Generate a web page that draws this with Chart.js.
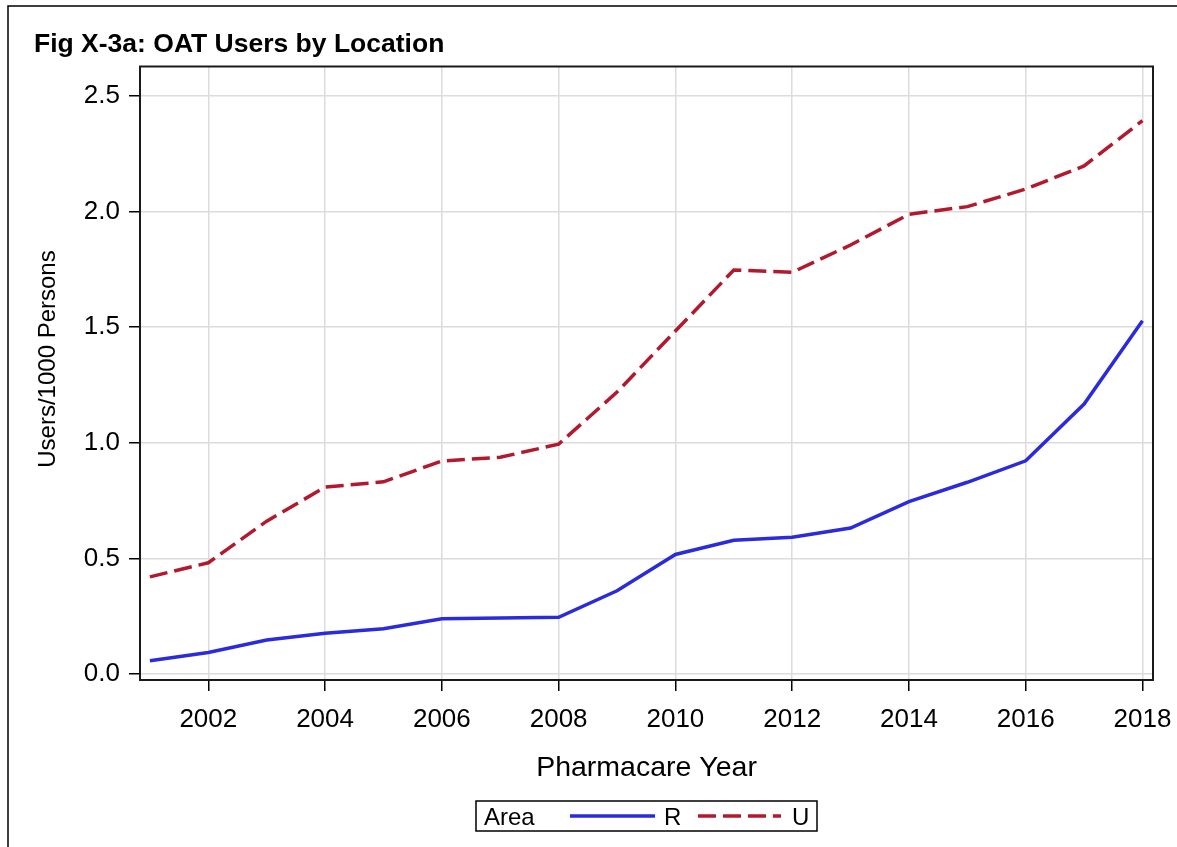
<!DOCTYPE html>
<html>
<head>
<meta charset="utf-8">
<title>OAT Users by Location</title>
<script src="https://cdn.jsdelivr.net/npm/chart.js@4/dist/chart.umd.min.js"></script>
<style>
  html, body { margin: 0; padding: 0; background: #fff; }
  #wrap { width: 1177px; height: 847px; position: relative; }
</style>
</head>
<body>
<div id="wrap"><canvas id="chart" width="1177" height="847"></canvas></div>
<script>
// Pharmacare years and OAT users per 1000 persons, by area
const years = [2001, 2002, 2003, 2004, 2005, 2006, 2007, 2008, 2009, 2010, 2011, 2012, 2013, 2014, 2015, 2016, 2017, 2018];
const ruralUsers = [0.057, 0.093, 0.147, 0.176, 0.196, 0.239, 0.242, 0.245, 0.360, 0.517, 0.578, 0.591, 0.631, 0.745, 0.829, 0.922, 1.167, 1.528];
const urbanUsers = [0.420, 0.481, 0.661, 0.808, 0.831, 0.921, 0.937, 0.994, 1.219, 1.483, 1.747, 1.737, 1.855, 1.988, 2.021, 2.097, 2.197, 2.393];
const xTicks = [2002, 2004, 2006, 2008, 2010, 2012, 2014, 2016, 2018];
const yTicks = [0, 0.5, 1.0, 1.5, 2.0, 2.5];
const seriesNames = ['R', 'U'];

const FONT = "'Liberation Sans', Arial, Helvetica, sans-serif";
const BLUE = '#2b2bdc';
const RED = '#b3192e';
const RED_DASH = [18, 7];

const toPoints = (vals) => years.map((y, i) => ({ x: y, y: vals[i] }));

// Frame, title, axis titles and the boxed legend
const decorations = {
  id: 'decorations',
  beforeDraw(chart) {
    const ctx = chart.ctx;
    ctx.save();
    ctx.fillStyle = '#fff';
    ctx.fillRect(0, 0, chart.width, chart.height);
    ctx.restore();
  },
  afterDraw(chart) {
    const ctx = chart.ctx;
    const a = chart.chartArea;
    ctx.save();

    // outer frame
    ctx.strokeStyle = '#000';
    ctx.lineWidth = 1.5;
    ctx.strokeRect(8, 6, 1200, 900);

    // plot box
    ctx.lineWidth = 2;
    ctx.strokeStyle = '#1a1a1a';
    ctx.strokeRect(a.left, a.top, a.right - a.left, a.bottom - a.top);

    // title
    ctx.fillStyle = '#000';
    ctx.font = 'bold 26.5px ' + FONT;
    ctx.textAlign = 'left';
    ctx.textBaseline = 'alphabetic';
    ctx.fillText('Fig X-3a: OAT Users by Location', 34, 52);

    // x axis title
    ctx.font = '28.5px ' + FONT;
    ctx.textAlign = 'center';
    ctx.fillText('Pharmacare Year', (a.left + a.right) / 2, 776);

    // y axis title
    ctx.save();
    ctx.translate(55, 359);
    ctx.rotate(-Math.PI / 2);
    ctx.font = '24px ' + FONT;
    ctx.textAlign = 'center';
    ctx.fillText('Users/1000 Persons', 0, 0);
    ctx.restore();

    // legend
    const lx = 476, ly = 801, lw = 341, lh = 30;
    ctx.lineWidth = 1.5;
    ctx.strokeStyle = '#000';
    ctx.strokeRect(lx, ly, lw, lh);
    ctx.font = '24px ' + FONT;
    ctx.textAlign = 'left';
    ctx.fillStyle = '#000';
    ctx.fillText('Area', 484, 825);
    const midY = 816;
    ctx.lineWidth = 3.5;
    ctx.strokeStyle = BLUE;
    ctx.beginPath();
    ctx.moveTo(570, midY);
    ctx.lineTo(655, midY);
    ctx.stroke();
    ctx.fillText(seriesNames[0], 664, 825);
    ctx.strokeStyle = RED;
    ctx.setLineDash(RED_DASH);
    ctx.beginPath();
    ctx.moveTo(698, midY);
    ctx.lineTo(781, midY);
    ctx.stroke();
    ctx.setLineDash([]);
    ctx.fillText(seriesNames[1], 792, 825);

    ctx.restore();
  }
};

// Fixed scale boxes so the plot sits at a set place on the canvas
const fixX = (s) => { s.height = 167; s.paddingLeft = 0; s.paddingRight = 0; };
const fixY = (s) => { s.width = 140; s.paddingTop = 0; s.paddingBottom = 0; };

new Chart(document.getElementById('chart'), {
  type: 'line',
  data: {
    datasets: [
      {
        label: seriesNames[0],
        data: toPoints(ruralUsers),
        borderColor: BLUE,
        borderWidth: 3.5,
        pointRadius: 0,
        tension: 0,
        fill: false
      },
      {
        label: seriesNames[1],
        data: toPoints(urbanUsers),
        borderColor: RED,
        borderWidth: 3.5,
        borderDash: RED_DASH,
        pointRadius: 0,
        tension: 0,
        fill: false
      }
    ]
  },
  options: {
    responsive: false,
    animation: false,
    devicePixelRatio: 1,
    layout: { padding: { top: 66.5, right: 24, left: 0, bottom: 0 } },
    plugins: {
      legend: { display: false },
      tooltip: { enabled: false },
      title: { display: false }
    },
    scales: {
      x: {
        type: 'linear',
        min: 2000.83,
        max: 2018.18,
        afterBuildTicks: (s) => { s.ticks = xTicks.map(v => ({ value: v })); },
        afterFit: fixX,
        ticks: {
          color: '#000',
          font: { family: FONT, size: 26 },
          padding: 13,
          maxRotation: 0,
          autoSkip: false,
          callback: (v) => String(v)
        },
        grid: {
          color: '#dcdcdc',
          lineWidth: 1.5,
          tickLength: 11,
          tickColor: '#000',
          tickWidth: 1.5
        },
        border: { display: true, color: '#1a1a1a', width: 2 }
      },
      y: {
        type: 'linear',
        min: -0.026,
        max: 2.627,
        afterBuildTicks: (s) => { s.ticks = yTicks.map(v => ({ value: v })); },
        afterFit: fixY,
        ticks: {
          color: '#000',
          font: { family: FONT, size: 26 },
          padding: 9,
          autoSkip: false,
          callback: (v) => Number(v).toFixed(1)
        },
        grid: {
          color: '#dcdcdc',
          lineWidth: 1.5,
          tickLength: 11,
          tickColor: '#000',
          tickWidth: 1.5
        },
        border: { display: true, color: '#1a1a1a', width: 2 }
      }
    }
  },
  plugins: [decorations]
});
</script>
</body>
</html>
